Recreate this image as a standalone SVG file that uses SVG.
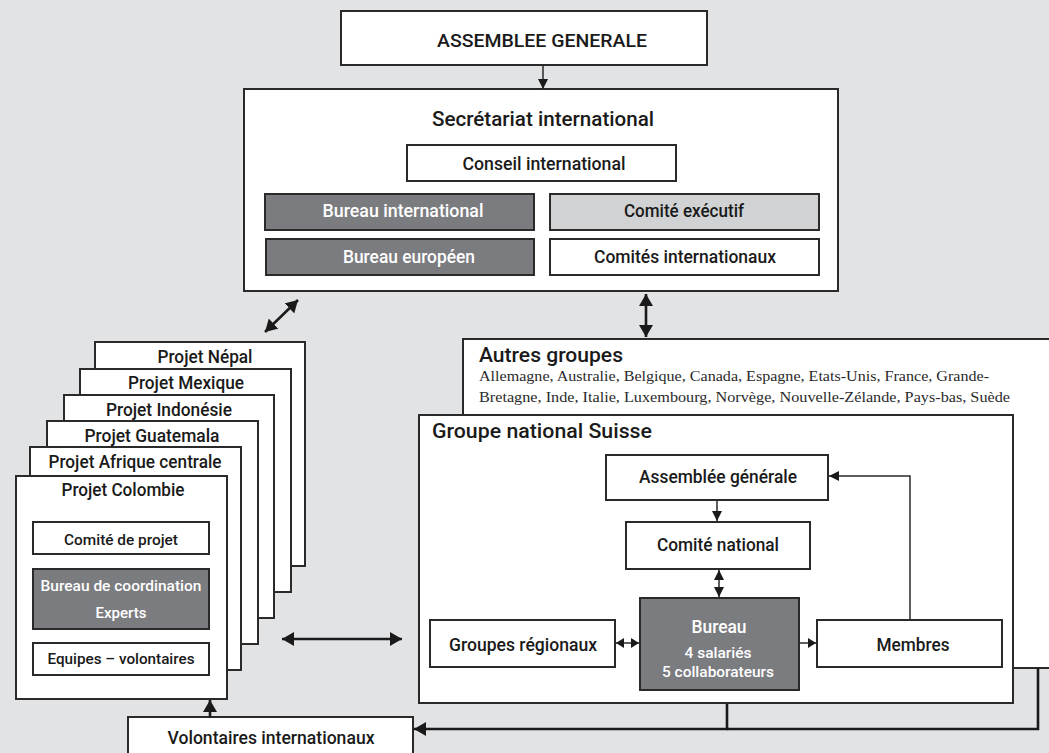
<svg xmlns="http://www.w3.org/2000/svg" width="1049" height="753" viewBox="0 0 1049 753">
<defs>
<style>
.box{fill:#fff;stroke:#2a2a2a;stroke-width:2}
.dark{fill:#7b7c7f;stroke:#2a2a2a;stroke-width:2}
.light{fill:#d1d2d4;stroke:#2a2a2a;stroke-width:2}
text{font-family:"Liberation Sans Narrow","Roboto","Open Sans",sans-serif;font-weight:500;fill:#1a1a1a;text-anchor:middle}
.t17{font-size:18px}
.t20{font-size:20.5px}
.t15{font-size:15px}
.w{fill:#fff}
.st{text-anchor:start}
.serif{font-family:"Liberation Serif",serif;font-weight:400;font-size:14px;text-anchor:start;fill:#2a2a2a}
.thin{fill:none;stroke:#2a2a2a;stroke-width:1.5}
.thick{fill:none;stroke:#1a1a1a;stroke-width:2.6}
</style>
<marker id="ah" markerUnits="userSpaceOnUse" markerWidth="10" markerHeight="10" refX="9" refY="4.5" orient="auto-start-reverse" viewBox="0 0 9 9">
<path d="M0,0 L9,4.5 L0,9 Z" fill="#1a1a1a"/>
</marker>
<marker id="ahs" markerUnits="userSpaceOnUse" markerWidth="9" markerHeight="10" refX="8" refY="5" orient="auto-start-reverse" viewBox="0 0 8 10">
<path d="M0,0 L8,5 L0,10 Z" fill="#1a1a1a"/>
</marker>
<marker id="ahb" markerUnits="userSpaceOnUse" markerWidth="14" markerHeight="14" refX="12" refY="7" orient="auto-start-reverse" viewBox="0 0 14 14">
<path d="M0,0 L12,7 L0,14 Z" fill="#1a1a1a"/>
</marker>
</defs>
<rect width="1049" height="753" fill="#e2e3e5"/>

<g id="assemblee-generale">
<rect class="box" x="341" y="11" width="366" height="54"/>
<text class="t17" x="542" y="47" textLength="210" lengthAdjust="spacingAndGlyphs">ASSEMBLEE GENERALE</text>
</g>

<g id="secretariat">
<rect class="box" x="244" y="89" width="594" height="202"/>
<text class="t20" x="543" y="126" textLength="222" lengthAdjust="spacingAndGlyphs">Secrétariat international</text>
</g>
<g id="conseil-international">
<rect class="box" x="407" y="145" width="269" height="36"/>
<text class="t17" x="544" y="170" textLength="163" lengthAdjust="spacingAndGlyphs">Conseil international</text>
</g>
<g id="bureau-international">
<rect class="dark" x="265" y="194" width="269" height="36"/>
<text class="t17 w" x="403" y="217" textLength="161" lengthAdjust="spacingAndGlyphs">Bureau international</text>
</g>
<g id="comite-executif">
<rect class="light" x="550" y="194" width="269" height="36"/>
<text class="t17" x="684" y="217" textLength="120" lengthAdjust="spacingAndGlyphs">Comité exécutif</text>
</g>
<g id="bureau-europeen">
<rect class="dark" x="266" y="239" width="268" height="36"/>
<text class="t17 w" x="409" y="263" textLength="132" lengthAdjust="spacingAndGlyphs">Bureau européen</text>
</g>
<g id="comites-internationaux">
<rect class="box" x="550" y="239" width="269" height="36"/>
<text class="t17" x="685" y="263" textLength="182" lengthAdjust="spacingAndGlyphs">Comités internationaux</text>
</g>

<g id="projet-nepal">
<rect class="box" x="95" y="342" width="210" height="224"/>
<text class="t17" x="205" y="363" textLength="95" lengthAdjust="spacingAndGlyphs">Projet Népal</text>
</g>
<g id="projet-mexique">
<rect class="box" x="80" y="369" width="211" height="223"/>
<text class="t17" x="186" y="389" textLength="116" lengthAdjust="spacingAndGlyphs">Projet Mexique</text>
</g>
<g id="projet-indonesie">
<rect class="box" x="64" y="395" width="210" height="223"/>
<text class="t17" x="169" y="416" textLength="126" lengthAdjust="spacingAndGlyphs">Projet Indonésie</text>
</g>
<g id="projet-guatemala">
<rect class="box" x="47" y="421" width="211" height="223"/>
<text class="t17" x="152" y="442" textLength="135" lengthAdjust="spacingAndGlyphs">Projet Guatemala</text>
</g>
<g id="projet-afrique-centrale">
<rect class="box" x="30" y="447" width="211" height="223"/>
<text class="t17" x="135" y="468" textLength="173" lengthAdjust="spacingAndGlyphs">Projet Afrique centrale</text>
</g>
<g id="projet-colombie">
<rect class="box" x="16" y="476" width="211" height="223"/>
<text class="t17" x="123" y="496" textLength="123" lengthAdjust="spacingAndGlyphs">Projet Colombie</text>
</g>
<g id="comite-de-projet">
<rect class="box" x="33" y="522" width="176" height="32"/>
<text class="t15" x="121" y="545" textLength="114" lengthAdjust="spacingAndGlyphs">Comité de projet</text>
</g>
<g id="bureau-coordination">
<rect class="dark" x="33" y="569" width="176" height="60"/>
<text class="t15 w" x="121" y="591" textLength="161" lengthAdjust="spacingAndGlyphs">Bureau de coordination</text>
<text class="t15 w" x="121" y="618" textLength="51" lengthAdjust="spacingAndGlyphs">Experts</text>
</g>
<g id="equipes-volontaires">
<rect class="box" x="33" y="643" width="176" height="32"/>
<text class="t15" x="121" y="664" textLength="147" lengthAdjust="spacingAndGlyphs">Equipes – volontaires</text>
</g>

<g id="volontaires-internationaux">
<rect class="box" x="128" y="717" width="285" height="50"/>
<text class="t17" x="271" y="744" textLength="207" lengthAdjust="spacingAndGlyphs">Volontaires internationaux</text>
</g>

<g id="autres-groupes">
<rect class="box" x="463" y="339" width="620" height="329"/>
<text class="t20 st" x="479" y="362" textLength="144" lengthAdjust="spacingAndGlyphs">Autres groupes</text>
<text class="serif" x="479" y="381" textLength="510" lengthAdjust="spacingAndGlyphs">Allemagne, Australie, Belgique, Canada, Espagne, Etats-Unis, France, Grande-</text>
<text class="serif" x="479" y="402" textLength="531" lengthAdjust="spacingAndGlyphs">Bretagne, Inde, Italie, Luxembourg, Norvège, Nouvelle-Zélande, Pays-bas, Suède</text>
</g>

<g id="groupe-national-suisse">
<rect class="box" x="419" y="415" width="594" height="288"/>
<text class="t20 st" x="432" y="438" textLength="220" lengthAdjust="spacingAndGlyphs">Groupe national Suisse</text>
</g>
<g id="assemblee-generale-suisse">
<rect class="box" x="606" y="455" width="222" height="45"/>
<text class="t17" x="718" y="483" textLength="158" lengthAdjust="spacingAndGlyphs">Assemblée générale</text>
</g>
<g id="comite-national">
<rect class="box" x="626" y="522" width="184" height="47"/>
<text class="t17" x="718" y="551" textLength="122" lengthAdjust="spacingAndGlyphs">Comité national</text>
</g>
<g id="bureau">
<rect class="dark" x="640" y="598" width="159" height="92"/>
<text class="t17 w" x="719" y="633" textLength="55" lengthAdjust="spacingAndGlyphs">Bureau</text>
<text class="t15 w" x="718" y="658" textLength="67" lengthAdjust="spacingAndGlyphs">4 salariés</text>
<text class="t15 w" x="718" y="677" textLength="112" lengthAdjust="spacingAndGlyphs">5 collaborateurs</text>
</g>
<g id="groupes-regionaux">
<rect class="box" x="430" y="620" width="185" height="47"/>
<text class="t17" x="523" y="651" textLength="148" lengthAdjust="spacingAndGlyphs">Groupes régionaux</text>
</g>
<g id="membres">
<rect class="box" x="817" y="620" width="185" height="47"/>
<text class="t17" x="913" y="651" textLength="73" lengthAdjust="spacingAndGlyphs">Membres</text>
</g>

<g id="connectors">
<line class="thin" x1="543" y1="65" x2="543" y2="89" marker-end="url(#ah)"/>
<line class="thick" x1="265" y1="332" x2="298" y2="300" marker-start="url(#ahb)" marker-end="url(#ahb)"/>
<line class="thick" x1="646" y1="294" x2="646" y2="337" marker-start="url(#ahb)" marker-end="url(#ahb)"/>
<line class="thick" x1="282" y1="639" x2="402" y2="639" marker-start="url(#ahb)" marker-end="url(#ahb)"/>
<line class="thick" x1="210" y1="717" x2="210" y2="700" marker-end="url(#ahb)"/>
<polyline class="thin" points="910,620 910,476 829,476" marker-end="url(#ah)"/>
<line class="thin" x1="717" y1="501" x2="717" y2="521" marker-end="url(#ah)"/>
<line class="thin" x1="719" y1="570" x2="719" y2="597" marker-start="url(#ah)" marker-end="url(#ah)"/>
<line class="thin" x1="616" y1="643" x2="639" y2="643" marker-start="url(#ahs)" marker-end="url(#ahs)"/>
<line class="thin" x1="800" y1="643" x2="816" y2="643" marker-end="url(#ahs)"/>
<polyline class="thick" points="727,704 727,729 414,729" marker-end="url(#ahb)"/>
<polyline class="thick" points="1038,668 1038,729 727,729"/>
</g>
</svg>
